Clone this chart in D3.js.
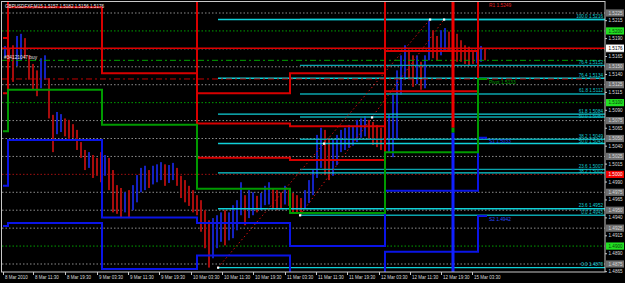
<!DOCTYPE html>
<html>
<head>
<meta charset="utf-8">
<script src="https://cdn.jsdelivr.net/npm/d3@7"></script>
<style>
  html, body { margin: 0; padding: 0; background: #000; }
  svg { display: block; }
  text { font-family: "Liberation Sans", Arial, sans-serif; }
</style>
</head>
<body>
<div id="okvir"></div>
<script>
// ---- podaci (ocitano sa slike) ----

// grupirane svijece, svaka pokriva 4 M15 bara
const barHigh = [1.5179,1.5176,1.5180,1.5193,1.5196,1.5190,1.5166,1.5154,1.5145,1.5162,
  1.5166,1.5134,1.5083,1.5087,1.5084,1.5078,1.5076,1.5070,1.5062,1.5045,
  1.5034,1.5031,1.5027,1.5023,1.5031,1.5027,1.5023,1.5006,1.4985,1.4981,
  1.4975,1.4978,1.4985,1.4999,1.5009,1.5012,1.5006,1.5012,1.5014,1.5017,
  1.5014,1.5013,1.5016,1.5009,1.4998,1.4992,1.4984,1.4978,1.4971,1.4964,
  1.4950,1.4936,1.4939,1.4943,1.4947,1.4950,1.4947,1.4957,1.4964,1.4989,
  1.4971,1.4978,1.4975,1.4970,1.4974,1.4984,1.4989,1.4981,1.4978,1.4975,
  1.4984,1.4978,1.4974,1.4971,1.4967,1.4978,1.4992,1.5006,1.5055,1.5065,
  1.5062,1.5051,1.5048,1.5055,1.5062,1.5065,1.5069,1.5067,1.5076,1.5078,
  1.5081,1.5076,1.5073,1.5069,1.5065,1.5069,1.5083,1.5111,1.5145,1.5166,
  1.5180,1.5173,1.5166,1.5166,1.5157,1.5166,1.5216,1.5201,1.5193,1.5201,
  1.5204,1.5199,1.5201,1.5196,1.5187,1.5180,1.5178,1.5171,1.5173,1.5179,1.5176]
const barLow = [1.5165,1.5157,1.5129,1.5151,1.5159,1.5162,1.5132,1.5118,1.5109,1.5120,
  1.5132,1.5078,1.5031,1.5056,1.5059,1.5053,1.5048,1.5051,1.5034,1.5023,
  1.5006,1.5009,1.4995,1.4998,1.4989,1.4998,1.4978,1.4947,1.4945,1.4939,
  1.4947,1.4939,1.4950,1.4961,1.4975,1.4978,1.4981,1.4986,1.4989,1.4992,
  1.4984,1.4988,1.4992,1.4984,1.4967,1.4961,1.4956,1.4947,1.4943,1.4920,
  1.4897,1.4870,1.4883,1.4897,1.4906,1.4901,1.4908,1.4911,1.4922,1.4943,
  1.4929,1.4939,1.4943,1.4947,1.4950,1.4957,1.4958,1.4953,1.4950,1.4952,
  1.4958,1.4956,1.4947,1.4945,1.4943,1.4953,1.4960,1.4971,1.4995,1.5009,
  1.4999,1.4992,1.4998,1.5013,1.5031,1.5034,1.5037,1.5040,1.5045,1.5051,
  1.5053,1.5048,1.5041,1.5038,1.5034,1.5023,1.5031,1.5024,1.5048,1.5111,
  1.5132,1.5134,1.5122,1.5126,1.5118,1.5120,1.5159,1.5162,1.5159,1.5166,
  1.5171,1.5173,1.5166,1.5157,1.5157,1.5154,1.5152,1.5154,1.5155,1.5157,1.5159]

// dnevni pivoti (pocetak dana u barovima od lijevog ruba)
const dayStart = [0, 5, 99, 194, 287, 382, 475]
const lastBar = 484
const pivotP  = [1.5060, 1.5118, 1.5069, 1.4980, 1.4946, 1.5031, 1.5133]
const pivotR1 = [1.5113, 1.5233, 1.5141, 1.5023, 1.5020, 1.5116, 1.5249]
const pivotR2 = [1.5190, 1.5303, 1.5270, 1.5071, 1.5067, 1.5172, 1.5330]
const pivotR3 = [1.5243, 1.5419, 1.5342, 1.5113, 1.5141, 1.5256, 1.5439]
const pivotS1 = [1.4984, 1.5048, 1.4940, 1.4932, 1.4900, 1.4977, 1.5051]
const pivotS2 = [1.4928, 1.4932, 1.4868, 1.4887, 1.4826, 1.4892, 1.4942]
const pivotNames = ["R1", "Pivot", "S1", "S2"]
const pivotLabelValues = ["1.5249", "1.5133", "1.5033", "1.4942"]

// tjedni prijelaz
const weekBar = 450
const weekSpans = [[1.5260, 1.5065], [1.5065, 1.5058], [1.5058, 1.4850]]

// fibonacci
const fiboRatios = ["0.0", "23.6", "38.2", "50.0", "61.8", "76.4", "100.0"]
const fibo1Bars = [215, 427]
const fibo1Prices = [1.4870, 1.4952, 1.5002, 1.5043, 1.5084, 1.5134, 1.5216]
const fibo2Bars = [297, 441]
const fibo2Prices = [1.4943, 1.5007, 1.5049, 1.5080, 1.5112, 1.5152, 1.5216]

// razine
const grayLevels = [1.4875, 1.4925, 1.4950, 1.4975, 1.5025, 1.5050, 1.5075, 1.5125, 1.5150, 1.5175, 1.5225]
const greenLevels = [1.4900, 1.5100, 1.5200]
const redLevels = [1.5000]
const orderPrice = 1.5159
const stopPrice = 1.5133
const bidPrice = 1.5176

// osi
const priceTicks = [1.4865, 1.4890, 1.4915, 1.4940, 1.4965, 1.4990, 1.5015, 1.5040, 1.5065, 1.5090, 1.5115, 1.5140, 1.5165, 1.5190, 1.5215]
const timeTickBars = [0, 30, 62, 94, 125, 156, 188, 219, 250, 282, 313, 344, 376, 407, 438, 469]
const timeTickLabels = ["8 Mar 2010", "8 Mar 11:30", "8 Mar 19:30", "9 Mar 03:30", "9 Mar 11:30", "9 Mar 19:30",
  "10 Mar 03:30", "10 Mar 11:30", "10 Mar 19:30", "11 Mar 03:30", "11 Mar 11:30", "11 Mar 19:30",
  "12 Mar 03:30", "12 Mar 11:30", "12 Mar 19:30", "15 Mar 03:30"]

const titleText = "GBPUSDFXF,M15  1.5157 1.5182 1.5156 1.5176"
const orderText = "#34121047 buy"

// ---- dimenzije ----
const dim = { width: 625, height: 283, left: 2, top: 2, right: 605, bottom: 272 }

const xScale = d3.scaleLinear().domain([0, 602]).range([3, 605])
const yScale = d3.scaleLinear().domain([1.4875, 1.5225]).range([264, 13])

const svg = d3.select("#okvir").append("svg")
    .attr("width", dim.width)
    .attr("height", dim.height)

svg.append("rect")
    .attr("width", dim.width).attr("height", dim.height)
    .attr("fill", "#000")

svg.append("clipPath").attr("id", "plot")
  .append("rect")
    .attr("x", dim.left).attr("y", dim.top)
    .attr("width", dim.right - dim.left).attr("height", dim.bottom - dim.top)

const plot = svg.append("g").attr("clip-path", "url(#plot)")

// horizontalne razine
const hLine = (price, color, dash, w) => plot.append("line")
    .attr("x1", dim.left).attr("x2", dim.right)
    .attr("y1", yScale(price)).attr("y2", yScale(price))
    .attr("stroke", color)
    .attr("stroke-width", w)
    .attr("stroke-dasharray", dash)

grayLevels.forEach(p => hLine(p, "#8c8c8c", "1.5,2", 1))
greenLevels.forEach(p => hLine(p, "#00a000", "1.5,2", 1))
redLevels.forEach(p => hLine(p, "#a01010", "1.5,2", 1))

// svijece
const candles = plot.append("g")
barHigh.forEach((hi, i) => {
  const lo = barLow[i]
  const mid = (hi + lo) / 2
  const prevMid = i > 0 ? (barHigh[i - 1] + barLow[i - 1]) / 2 : mid
  candles.append("rect")
      .attr("x", xScale(4 * i + 2) - 1)
      .attr("width", 2)
      .attr("y", yScale(hi))
      .attr("height", Math.max(1, yScale(lo) - yScale(hi)))
      .attr("fill", mid >= prevMid ? "#1422c0" : "#a80c0c")
})

// fibonacci
const drawFibo = (bars, prices, color) => {
  prices.forEach(p => {
    plot.append("line")
        .attr("x1", xScale(bars[0])).attr("x2", dim.right)
        .attr("y1", yScale(p)).attr("y2", yScale(p))
        .attr("stroke", color).attr("stroke-width", 1.4)
  })
  plot.append("line")
      .attr("x1", xScale(bars[0])).attr("y1", yScale(prices[0]))
      .attr("x2", xScale(bars[1])).attr("y2", yScale(prices[prices.length - 1]))
      .attr("stroke", "#d01010").attr("stroke-width", 1)
      .attr("stroke-dasharray", "1.5,2.5")
}
drawFibo(fibo2Bars, fibo2Prices, "#0aa4ad")
drawFibo(fibo1Bars, fibo1Prices, "#10d0d8")

// nalog i stop
hLine(orderPrice, "#00a000", "6,3,2,3", 1)
hLine(stopPrice, "#c00000", "6,3,2,3", 1)
hLine(bidPrice, "#e00000", null, 1.5)

// pivoti kao stepenice
const stepLine = d3.line()
    .x(d => xScale(d[0]))
    .y(d => yScale(d[1]))
    .curve(d3.curveStepAfter)

const drawLevel = (values, color) => {
  const pts = values.map((v, i) => [dayStart[i], v])
  pts.push([lastBar, values[values.length - 1]])
  plot.append("path")
      .attr("d", stepLine(pts))
      .attr("fill", "none")
      .attr("stroke", color)
      .attr("stroke-width", 2)
}
drawLevel(pivotR3, "#d80000")
drawLevel(pivotR2, "#d80000")
drawLevel(pivotR1, "#d80000")
drawLevel(pivotS2, "#0a14e6")
drawLevel(pivotS1, "#0a14e6")
drawLevel(pivotP, "#009a00")

const weekColors = ["#f00000", "#00a000", "#1020ff"]
weekSpans.forEach((s, i) => {
  plot.append("line")
      .attr("x1", xScale(weekBar)).attr("x2", xScale(weekBar))
      .attr("y1", yScale(s[0])).attr("y2", yScale(s[1]))
      .attr("stroke", weekColors[i]).attr("stroke-width", 3)
})

// oznake fibo tocaka
;[[fibo1Bars, fibo1Prices], [fibo2Bars, fibo2Prices]].forEach(([b, p]) => {
  const pts = [[b[0], p[0]], [(b[0] + b[1]) / 2, (p[0] + p[6]) / 2], [b[1], p[6]]]
  pts.forEach(d => plot.append("rect")
      .attr("x", xScale(d[0]) - 1).attr("y", yScale(d[1]) - 1)
      .attr("width", 2.2).attr("height", 2.2)
      .attr("fill", "#fff"))
})

// tekstovi fibo razina, razmaknuti da se ne preklapaju
const fiboLabels = []
fibo1Prices.forEach((p, i) => fiboLabels.push({ p, r: fiboRatios[i], c: "#10d0d8" }))
fibo2Prices.forEach((p, i) => { if (p !== fibo1Prices[i] || i < 6) fiboLabels.push({ p, r: fiboRatios[i], c: "#10c4cc" }) })
const uniqueLabels = fiboLabels.filter((d, i, a) => a.findIndex(e => e.p === d.p) === i)
uniqueLabels.sort((a, b) => b.p - a.p)
let lastY = -10
uniqueLabels.forEach(d => {
  let y = yScale(d.p) - 1.6
  if (y - lastY < 5) y = lastY + 5
  lastY = y
  plot.append("text")
      .attr("x", dim.right - 2)
      .attr("y", y)
      .attr("text-anchor", "end")
      .attr("font-size", 4.6)
      .attr("fill", d.c)
      .text(`${d.r}  ${d.p.toFixed(4)}`)
})

// tekstovi pivota
const pivotLast = [pivotR1, pivotP, pivotS1, pivotS2].map(a => a[a.length - 1])
const pivotColors = ["#e02020", "#00a000", "#2a48ff", "#2a48ff"]
pivotLast.forEach((v, i) => {
  plot.append("text")
      .attr("x", xScale(lastBar) + 2)
      .attr("y", Math.max(yScale(v), 1.5) + 5.5)
      .attr("font-size", 4.8)
      .attr("fill", pivotColors[i])
      .text(`${pivotNames[i]} ${pivotLabelValues[i]}`)
})

plot.append("text")
    .attr("x", 4).attr("y", yScale(orderPrice) - 1.2)
    .attr("font-size", 4.8).attr("fill", "#e0e0e0")
    .text(orderText)

svg.append("text")
    .attr("x", 5).attr("y", 8)
    .attr("font-size", 4.6).attr("fill", "#e8e8e8")
    .text(titleText)

// okvir
svg.append("rect")
    .attr("x", 1.5).attr("y", 1.5)
    .attr("width", dim.right - 1.5).attr("height", dim.bottom - 1.5)
    .attr("fill", "none").attr("stroke", "#c8c8c8").attr("stroke-width", 1)

// desna os
const yAxis = svg.append("g")
    .attr("transform", `translate(${dim.right},0)`)
    .call(d3.axisRight(yScale).tickValues(priceTicks).tickFormat(d3.format(".4f")).tickSize(2))
yAxis.select(".domain").remove()
yAxis.selectAll("line").attr("stroke", "#c8c8c8")
yAxis.selectAll("text")
    .attr("x", 3.5)
    .attr("font-size", 4.6)
    .attr("fill", "#dcdcdc")
    .attr("font-family", "Liberation Sans")

const box = (price, fill, color) => {
  const g = svg.append("g").attr("transform", `translate(${dim.right + 1},${yScale(price)})`)
  g.append("rect").attr("x", 0).attr("y", -3.6).attr("width", 18).attr("height", 7.2).attr("fill", fill)
  g.append("text").attr("x", 2.5).attr("y", 1.7).attr("font-size", 4.6).attr("fill", color)
      .text(price.toFixed(4))
}
grayLevels.forEach(p => box(p, "#6e6e6e", "#d8d8d8"))
greenLevels.forEach(p => box(p, "#22e022", "#0a3a0a"))
redLevels.forEach(p => box(p, "#f00000", "#ffffff"))
box(bidPrice, "#ffffff", "#000000")

// donja os
const xAxis = svg.append("g")
    .attr("transform", `translate(0,${dim.bottom})`)
    .call(d3.axisBottom(xScale).tickValues(timeTickBars).tickFormat((d, i) => timeTickLabels[i]).tickSize(3))
xAxis.select(".domain").remove()
xAxis.selectAll("line").attr("stroke", "#c8c8c8")
xAxis.selectAll("text")
    .attr("text-anchor", "start")
    .attr("x", 1.5).attr("y", 4)
    .attr("font-size", 4.5)
    .attr("fill", "#dcdcdc")
    .attr("font-family", "Liberation Sans")
</script>
</body>
</html>
